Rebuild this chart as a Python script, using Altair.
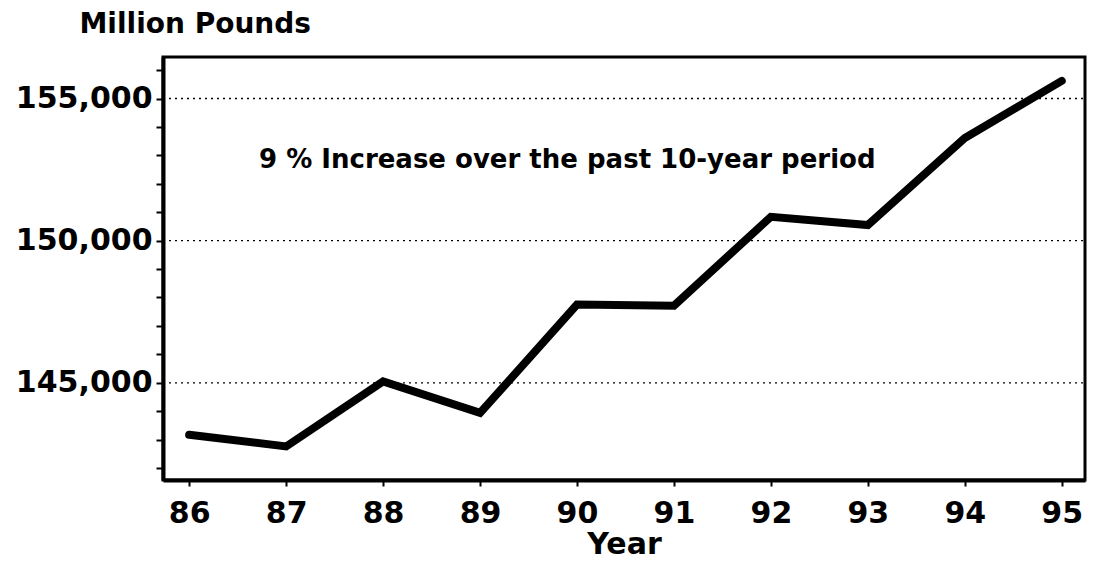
import altair as alt
import pandas as pd

years = [86, 87, 88, 89, 90, 91, 92, 93, 94, 95]
pounds = [143170, 142760, 145050, 143940, 147750, 147710, 150840, 150550, 153610, 155620]
grid_values = [145000, 150000, 155000]
y_ticks = list(range(142000, 157000, 1000))
note_text = ["9 % Increase over the past 10-year period"]
note_year = [89.9]
note_value = [152830]

W, H = 922, 423
FONT = "DejaVu Sans"

df = pd.DataFrame({"year": years, "pounds": pounds})
grid_df = pd.DataFrame({"pounds": grid_values})
note_df = pd.DataFrame({"year": note_year, "pounds": note_value, "label": note_text})

x_scale = alt.Scale(domain=[85.73, 95.24], nice=False, zero=False)
y_scale = alt.Scale(domain=[141580, 156460], nice=False, zero=False)

x_axis = alt.Axis(
    values=years, format="d", title="Year", grid=False, tickCount=20,
    labelFont=FONT, labelFontSize=30, labelFontWeight="bold", labelColor="black",
    tickColor="black", tickWidth=2, tickSize=6, labelPadding=12,
    domainColor="black", domainWidth=4,
    titleFont=FONT, titleFontSize=30, titleFontWeight="bold", titleColor="black",
    titlePadding=1,
)
y_axis = alt.Axis(
    values=y_ticks, grid=False, labelOverlap=False, tickCount=30,
    labelExpr="datum.value % 5000 === 0 ? format(datum.value, ',') : ''",
    labelFont=FONT, labelFontSize=30, labelFontWeight="bold", labelColor="black",
    tickColor="black", tickWidth=2, tickSize=7, labelPadding=4,
    domainColor="black", domainWidth=4,
    title="Million Pounds", titleAngle=0, titleAlign="left", titleBaseline="alphabetic",
    titleX=-84, titleY=-25,
    titleFont=FONT, titleFontSize=28, titleFontWeight="bold", titleColor="black",
)

line = alt.Chart(df).mark_line(
    color="black", strokeWidth=8, strokeJoin="miter", strokeCap="round"
).encode(
    x=alt.X("year:Q", scale=x_scale, axis=x_axis),
    y=alt.Y("pounds:Q", scale=y_scale, axis=y_axis),
)

grid = alt.Chart(grid_df).mark_rule(
    color="black", strokeDash=[2, 4], strokeWidth=1.3
).encode(
    y=alt.Y("pounds:Q", scale=y_scale),
    x=alt.value(0),
    x2=alt.value(W),
)

note = alt.Chart(note_df).mark_text(
    font=FONT, fontWeight="bold", fontSize=26, color="black"
).encode(
    x=alt.X("year:Q", scale=x_scale),
    y=alt.Y("pounds:Q", scale=y_scale),
    text="label:N",
)

chart = alt.layer(line, grid, note).properties(
    width=W, height=H,
    autosize=alt.AutoSizeParams(type="none"),
    padding={"left": 155, "top": 49, "right": 2, "bottom": 81},
).configure_view(stroke="black", strokeWidth=3)

chart.save("out.html", embed_options={"renderer": "svg", "actions": False})
